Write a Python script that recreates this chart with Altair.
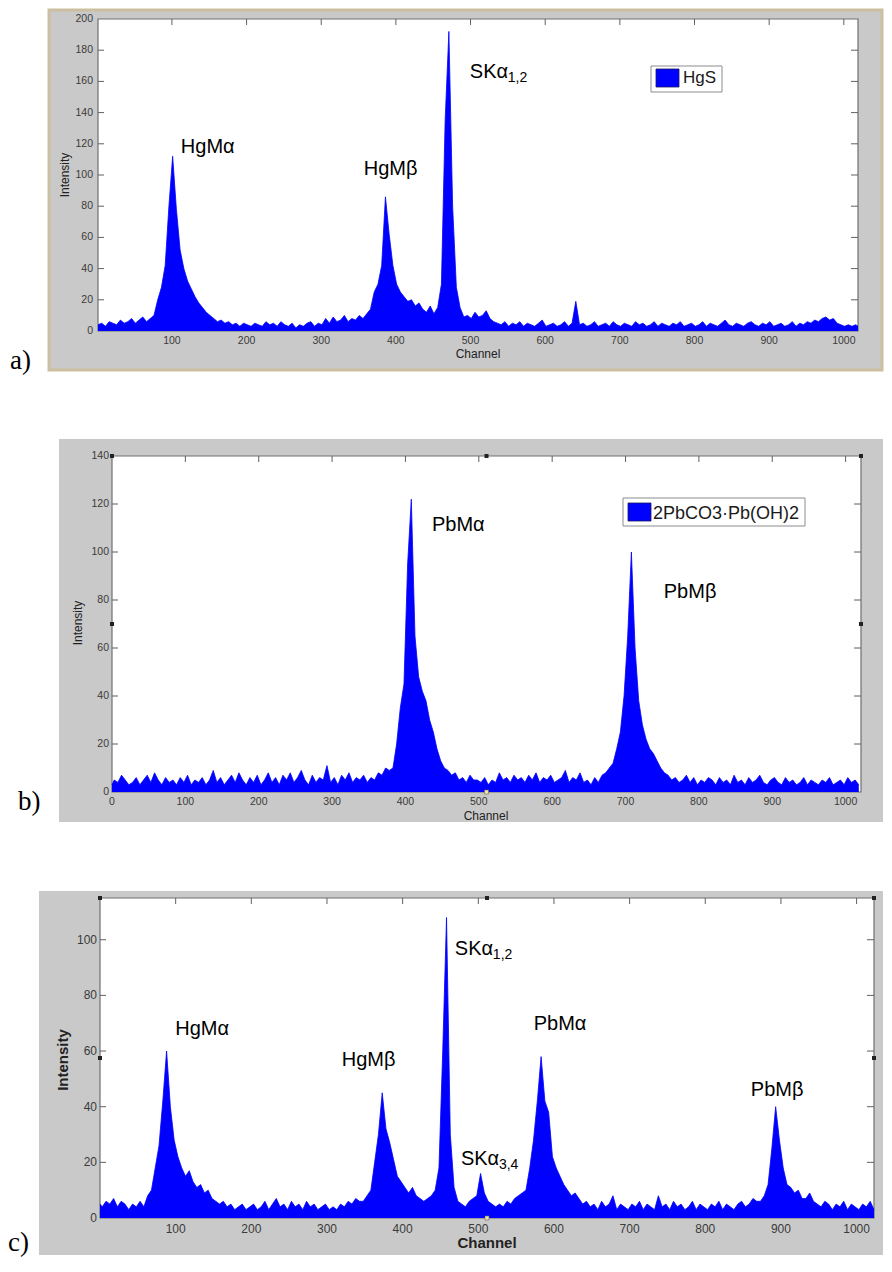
import altair as alt
import pandas as pd

# ---------------- data (intensity read every 5 channels) ----------------
STEP = 5

# a) HgS, first sample at channel 1
HGS_FIRST = 1
HGS = [
    4, 5, 3, 6, 5, 4, 7, 5, 6, 8,
    5, 7, 9, 6, 8, 10, 20, 28, 42, 80,
    112, 78, 52, 40, 32, 27, 22, 18, 15, 12,
    10, 8, 6, 7, 5, 6, 4, 5, 3, 5,
    4, 3, 5, 4, 3, 6, 4, 5, 3, 6,
    4, 3, 5, 2, 4, 3, 5, 6, 3, 5,
    4, 8, 5, 9, 6, 7, 10, 6, 8, 7,
    10, 8, 11, 14, 25, 30, 42, 86, 62, 42,
    30, 25, 22, 19, 20, 16, 18, 14, 12, 16,
    11, 15, 30, 135, 192, 80, 28, 15, 9, 10,
    8, 12, 9, 10, 13, 8, 6, 5, 4, 6,
    3, 5, 4, 6, 3, 5, 4, 3, 5, 7,
    3, 4, 5, 3, 4, 6, 3, 5, 19, 4,
    5, 3, 4, 6, 3, 4, 5, 3, 6, 4,
    3, 5, 4, 3, 6, 4, 5, 3, 4, 6,
    3, 5, 4, 3, 5, 4, 6, 3, 4, 5,
    3, 4, 6, 3, 5, 4, 3, 5, 7, 4,
    3, 5, 4, 3, 5, 6, 4, 3, 5, 4,
    6, 3, 4, 5, 3, 4, 6, 3, 5, 4,
    6, 5, 7, 6, 8, 9, 7, 8, 5, 4,
    3, 4, 3, 4, 3,
]

# b) 2PbCO3·Pb(OH)2, first sample at channel -2
PB_FIRST = -2
PB = [
    3, 5, 4, 7, 5, 3, 4, 6, 3, 5,
    7, 4, 8, 5, 3, 6, 4, 5, 3, 6,
    4, 7, 3, 5, 4, 6, 3, 5, 9, 4,
    6, 3, 5, 7, 4, 8, 5, 3, 6, 4,
    7, 3, 5, 8, 4, 6, 3, 7, 5, 8,
    4, 6, 9, 5, 3, 7, 4, 6, 5, 11,
    4, 6, 3, 7, 5, 8, 4, 6, 5, 7,
    4, 6, 5, 8, 7, 10, 9, 10, 20, 35,
    45, 95, 122, 65, 48, 42, 38, 30, 25, 18,
    13, 10, 9, 7, 8, 5, 6, 4, 7, 5,
    5, 4, 6, 3, 5, 4, 8, 5, 6, 4,
    7, 5, 6, 4, 7, 5, 8, 4, 6, 5,
    7, 4, 5, 6, 9, 4, 6, 5, 8, 4,
    5, 3, 6, 4, 7, 8, 10, 12, 18, 25,
    40, 65, 100, 60, 38, 28, 22, 18, 16, 13,
    10, 8, 7, 5, 6, 4, 5, 7, 4, 6,
    3, 5, 4, 6, 5, 3, 6, 4, 5, 3,
    7, 4, 5, 3, 6, 4, 5, 7, 4, 3,
    5, 6, 4, 3, 6, 4, 5, 3, 4, 6,
    3, 5, 4, 3, 5, 4, 6, 3, 4, 5,
    3, 6, 4, 5, 3,
]

# c) mixture, first sample at channel -2
MIX_FIRST = -2
MIX = [
    5, 4, 6, 5, 7, 4, 6, 5, 3, 5,
    4, 6, 4, 8, 10, 18, 26, 42, 60, 40,
    28, 22, 18, 15, 17, 13, 11, 12, 9, 10,
    7, 6, 5, 6, 4, 5, 3, 4, 5, 3,
    4, 5, 3, 4, 6, 3, 5, 7, 4, 5,
    3, 6, 4, 5, 3, 6, 4, 5, 3, 4,
    5, 3, 4, 3, 5, 4, 6, 5, 7, 6,
    6, 8, 10, 20, 30, 45, 32, 27, 21, 15,
    13, 11, 9, 11, 8, 7, 6, 7, 8, 10,
    18, 60, 108, 30, 11, 6, 5, 4, 6, 7,
    8, 16, 9, 6, 5, 4, 5, 4, 6, 5,
    7, 8, 9, 10, 18, 28, 42, 58, 42, 38,
    22, 18, 15, 12, 10, 8, 9, 7, 5, 6,
    4, 5, 3, 6, 4, 5, 8, 3, 5, 4,
    3, 5, 4, 6, 3, 5, 4, 3, 8, 4,
    5, 3, 6, 4, 5, 3, 4, 6, 3, 5,
    4, 3, 5, 4, 6, 3, 5, 4, 3, 5,
    6, 4, 5, 7, 6, 6, 8, 12, 25, 40,
    28, 18, 12, 11, 9, 10, 7, 7, 9, 6,
    5, 4, 6, 5, 3, 5, 4, 6, 3, 5,
    4, 3, 5, 4, 6, 3,
]

SERIES_A = "HgS"
SERIES_B = "2PbCO3·Pb(OH)2"

# tick labels
A_XLAB = [100, 200, 300, 400, 500, 600, 700, 800, 900, 1000]
A_YLAB = [0, 20, 40, 60, 80, 100, 120, 140, 160, 180, 200]
B_XLAB = [0, 100, 200, 300, 400, 500, 600, 700, 800, 900, 1000]
B_YLAB = [0, 20, 40, 60, 80, 100, 120, 140]
C_XLAB = [100, 200, 300, 400, 500, 600, 700, 800, 900, 1000]
C_YLAB = [0, 20, 40, 60, 80, 100]

# peak annotations (channel, intensity of text baseline)
A_PEAKS = ["HgMα", "HgMβ"]
A_PEAK_CH = [148, 393]
A_PEAK_V = [114, 100]
A_SK = ["SKα"]
A_SK_SUB = ["1,2"]
A_SK_CH = [499]
A_SK_V = [162]

B_PEAKS = ["PbMα", "PbMβ"]
B_PEAK_CH = [472, 788]
B_PEAK_V = [108.8, 81]

C_PEAKS = ["HgMα", "HgMβ", "PbMα", "PbMβ"]
C_PEAK_CH = [135, 355, 608, 895]
C_PEAK_V = [65.8, 54.6, 67.5, 43.9]
C_SK = ["SKα", "SKα"]
C_SK_SUB = ["1,2", "3,4"]
C_SK_CH = [469, 477]
C_SK_V = [94.5, 19.2]

# ---------------- styling ----------------
FONT = "Liberation Sans"
SERIF = "Liberation Serif"
BLUE = "#0000ff"
LBL = "#3a3a3a"
TICK = "#606060"
W = 876


def build_panel(p):
    H = p["H"]
    x0, y0, x1, y1 = p["plot"]
    fx0, fy0, fx1, fy1 = p["frame"]
    xs = alt.Scale(domain=p["xdom"], range=[x0, x1], nice=False, zero=False, clamp=True)
    ys = alt.Scale(domain=p["ydom"], range=[y1, y0], nice=False, zero=False, clamp=True)
    one = pd.DataFrame({"k": [0]})
    layers = []

    # figure frame
    layers.append(
        alt.Chart(one).mark_rect(fill=p["frame_fill"], stroke=p["frame_stroke"],
                                 strokeWidth=p["frame_sw"]).encode(
            x=alt.value(fx0), x2=alt.value(fx1), y=alt.value(fy0), y2=alt.value(fy1))
    )
    # plot box
    layers.append(
        alt.Chart(one).mark_rect(fill="white", stroke="#707070", strokeWidth=1.2).encode(
            x=alt.value(x0), x2=alt.value(x1), y=alt.value(y0), y2=alt.value(y1))
    )

    spec = pd.DataFrame({
        "channel": [p["first"] + STEP * i for i in range(len(p["vals"]))],
        "intensity": p["vals"],
    })
    base = alt.Chart(spec)
    layers.append(
        base.mark_area(color=BLUE, interpolate="linear").encode(
            x=alt.X("channel:Q", scale=xs, axis=None),
            y=alt.Y("intensity:Q", scale=ys, axis=None))
    )
    layers.append(
        base.mark_line(color=BLUE, strokeWidth=0.8, interpolate="linear").encode(
            x=alt.X("channel:Q", scale=xs, axis=None),
            y=alt.Y("intensity:Q", scale=ys, axis=None))
    )

    # tick labels (through the scales)
    xl = pd.DataFrame({"t": p["xlab"]})
    layers.append(
        alt.Chart(xl).mark_text(font=FONT, fontSize=p["lfs"], color=LBL, align="center",
                                baseline="top").encode(
            x=alt.X("t:Q", scale=xs, axis=None), y=alt.value(y1 + p["xpad"]),
            text=alt.Text("t:Q", format="d"))
    )
    yl = pd.DataFrame({"t": p["ylab"]})
    layers.append(
        alt.Chart(yl).mark_text(font=FONT, fontSize=p["lfs"], color=LBL, align="right",
                                baseline="middle").encode(
            y=alt.Y("t:Q", scale=ys, axis=None), x=alt.value(x0 - p["ypad"]),
            text=alt.Text("t:Q", format="d"))
    )

    # inward ticks: top, left, right
    tx = pd.DataFrame({"t": p["top_ticks"]})
    layers.append(
        alt.Chart(tx).mark_rule(color=TICK, strokeWidth=1).encode(
            x=alt.X("t:Q", scale=xs, axis=None), y=alt.value(y0), y2=alt.value(y0 + 6))
    )
    ty = pd.DataFrame({"t": p["side_ticks"]})
    layers.append(
        alt.Chart(ty).mark_rule(color=TICK, strokeWidth=1).encode(
            y=alt.Y("t:Q", scale=ys, axis=None), x=alt.value(x0), x2=alt.value(x0 + 6))
    )
    layers.append(
        alt.Chart(ty).mark_rule(color=TICK, strokeWidth=1).encode(
            y=alt.Y("t:Q", scale=ys, axis=None), x=alt.value(x1 - 7), x2=alt.value(x1))
    )

    # peak labels
    ann = pd.DataFrame({"label": p["peaks"], "ch": p["peak_ch"], "v": p["peak_v"]})
    layers.append(
        alt.Chart(ann).mark_text(font=FONT, fontSize=20, align="center",
                                 baseline="alphabetic", color="black").encode(
            x=alt.X("ch:Q", scale=xs, axis=None), y=alt.Y("v:Q", scale=ys, axis=None),
            text="label:N")
    )
    if p.get("sk"):
        sk = pd.DataFrame({"label": p["sk"], "sub": p["sk_sub"], "ch": p["sk_ch"], "v": p["sk_v"]})
        layers.append(
            alt.Chart(sk).mark_text(font=FONT, fontSize=20, align="left",
                                    baseline="alphabetic", color="black").encode(
                x=alt.X("ch:Q", scale=xs, axis=None), y=alt.Y("v:Q", scale=ys, axis=None),
                text="label:N")
        )
        layers.append(
            alt.Chart(sk).mark_text(font=FONT, fontSize=14, align="left", dx=38, dy=4,
                                    baseline="alphabetic", color="black").encode(
                x=alt.X("ch:Q", scale=xs, axis=None), y=alt.Y("v:Q", scale=ys, axis=None),
                text="sub:N")
        )

    # legend
    if p.get("leg_text"):
        bx0, by0, bx1, by1 = p["leg_box"]
        sx0, sy0, sx1, sy1 = p["leg_swatch"]
        layers.append(
            alt.Chart(one).mark_rect(fill="white", stroke="#8c8c8c", strokeWidth=1).encode(
                x=alt.value(bx0), x2=alt.value(bx1), y=alt.value(by0), y2=alt.value(by1))
        )
        layers.append(
            alt.Chart(one).mark_rect(fill=BLUE, stroke="#1a1a60", strokeWidth=0.8).encode(
                x=alt.value(sx0), x2=alt.value(sx1), y=alt.value(sy0), y2=alt.value(sy1))
        )
        layers.append(
            alt.Chart(one).mark_text(font=FONT, fontSize=p["leg_fs"], align="left",
                                     baseline="alphabetic", color="#1a1a1a").encode(
                x=alt.value(p["leg_tx"]), y=alt.value(p["leg_ty"]), text=alt.value(p["leg_text"]))
        )

    # selection handles (MATLAB plot-edit markers)
    if p.get("handles_x"):
        hd = pd.DataFrame({"hx": p["handles_x"], "hy": p["handles_y"]})
        layers.append(
            alt.Chart(hd).mark_square(size=16, color="#222222", opacity=1).encode(
                x=alt.X("hx:Q", scale=xs, axis=None), y=alt.Y("hy:Q", scale=ys, axis=None))
        )
        hb = pd.DataFrame({"hx": p["hb_x"], "hy": p["hb_y"]})
        layers.append(
            alt.Chart(hb).mark_square(size=16, fill="#f0e6a0", stroke="#666666",
                                      strokeWidth=0.6, opacity=1).encode(
                x=alt.X("hx:Q", scale=xs, axis=None), y=alt.Y("hy:Q", scale=ys, axis=None))
        )

    # axis titles and panel letter
    ix, iy = p["int_pos"]
    layers.append(
        alt.Chart(one).mark_text(font=FONT, fontSize=p["tfs"], fontWeight=p["tfw"], angle=270,
                                 align="center", baseline="middle", color="#222222").encode(
            x=alt.value(ix), y=alt.value(iy), text=alt.value("Intensity"))
    )
    cx, cy = p["ch_pos"]
    layers.append(
        alt.Chart(one).mark_text(font=FONT, fontSize=p["tfs"], fontWeight=p["tfw"],
                                 align="center", baseline="alphabetic", color="#222222").encode(
            x=alt.value(cx), y=alt.value(cy), text=alt.value("Channel"))
    )
    lx, ly = p["letter_pos"]
    layers.append(
        alt.Chart(one).mark_text(font=SERIF, fontSize=27, align="left",
                                 baseline="alphabetic", color="black").encode(
            x=alt.value(lx), y=alt.value(ly), text=alt.value(p["letter"]))
    )
    return alt.layer(*layers).properties(width=W, height=H)


PA = dict(
    H=405, plot=(90, 11, 850, 323), frame=(41, 2, 874, 362),
    frame_fill="#c9c9c9", frame_stroke="#cbbf9f", frame_sw=3,
    xdom=[1, 1019], ydom=[0, 200], first=HGS_FIRST, vals=HGS,
    xlab=A_XLAB, ylab=A_YLAB, xpad=5, ypad=5, lfs=10.5,
    top_ticks=A_XLAB, side_ticks=A_YLAB[1:-1],
    peaks=A_PEAKS, peak_ch=A_PEAK_CH, peak_v=A_PEAK_V,
    sk=A_SK, sk_sub=A_SK_SUB, sk_ch=A_SK_CH, sk_v=A_SK_V,
    leg_text=SERIES_A, leg_box=(643, 58, 714, 84), leg_swatch=(648, 61, 671, 79),
    leg_tx=675, leg_ty=75, leg_fs=17,
    int_pos=(57, 167), ch_pos=(470, 350), tfs=12, tfw="normal",
    letter="a)", letter_pos=(2, 361),
)

PB_P = dict(
    H=418, plot=(104, 43, 853, 379), frame=(51, 26, 875, 409),
    frame_fill="#c9c9c9", frame_stroke="#c9c9c9", frame_sw=0,
    xdom=[0, 1021], ydom=[0, 140], first=PB_FIRST, vals=PB,
    xlab=B_XLAB, ylab=B_YLAB, xpad=5, ypad=3, lfs=10.5,
    top_ticks=B_XLAB[1:], side_ticks=B_YLAB[1:-1],
    peaks=B_PEAKS, peak_ch=B_PEAK_CH, peak_v=B_PEAK_V,
    leg_text=SERIES_B, leg_box=(615, 85, 797, 113), leg_swatch=(620, 90, 643, 108),
    leg_tx=645, leg_ty=106, leg_fs=18,
    handles_x=[0, 510.5, 1021, 0, 1021], handles_y=[140, 140, 140, 70, 70],
    hb_x=[510.5], hb_y=[0],
    int_pos=(70, 210), ch_pos=(478, 407), tfs=12, tfw="normal",
    letter="b)", letter_pos=(10, 397),
)

PC = dict(
    H=427, plot=(92, 67, 866, 387), frame=(31, 60, 875, 424),
    frame_fill="#c9c9c9", frame_stroke="#c9c9c9", frame_sw=0,
    xdom=[0, 1023], ydom=[0, 115], first=MIX_FIRST, vals=MIX,
    xlab=C_XLAB, ylab=C_YLAB, xpad=6, ypad=3, lfs=12,
    top_ticks=C_XLAB, side_ticks=C_YLAB[1:],
    peaks=C_PEAKS, peak_ch=C_PEAK_CH, peak_v=C_PEAK_V,
    sk=C_SK, sk_sub=C_SK_SUB, sk_ch=C_SK_CH, sk_v=C_SK_V,
    handles_x=[0, 511.5, 1023, 0, 1023], handles_y=[115, 115, 115, 57.5, 57.5],
    hb_x=[511.5], hb_y=[0],
    int_pos=(55, 229), ch_pos=(479, 417), tfs=15, tfw="bold",
    letter="c)", letter_pos=(0, 420),
)

chart = alt.vconcat(
    build_panel(PA), build_panel(PB_P), build_panel(PC),
    spacing=0, bounds="flush",
).properties(padding=0).configure_view(strokeWidth=0)

chart.save("out.html", embed_options={"renderer": "svg", "actions": False})
